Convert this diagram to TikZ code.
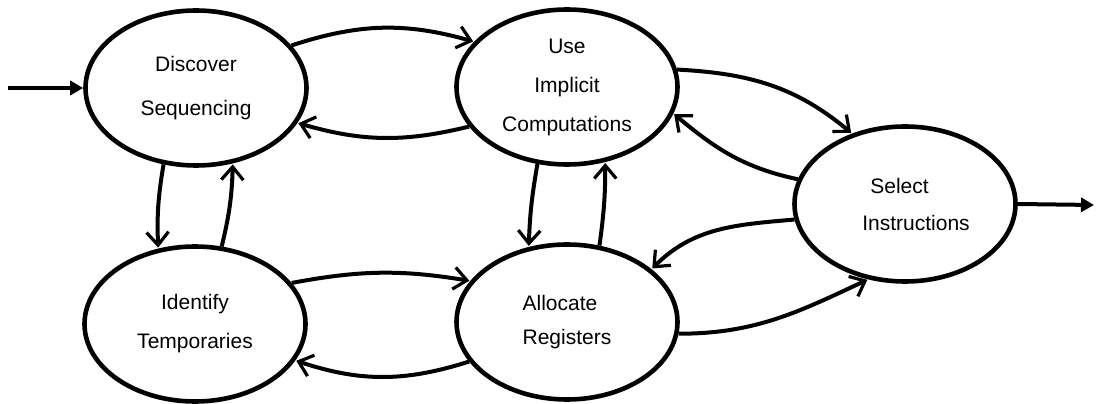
\documentclass[tikz,border=0pt]{standalone}
\usepackage{fontspec}
\setmainfont{Liberation Sans}
\usetikzlibrary{arrows.meta,shapes.geometric}
\begin{document}
\begin{tikzpicture}[x=1pt,y=1pt,
  state/.style={ellipse, draw, line width=4.6pt, minimum width=221pt,
    minimum height=155pt, inner sep=0pt, align=center,
    font=\fontsize{21}{39}\selectfont},
  conn/.style={line width=4pt,
    -{Straight Barb[length=13pt,width=22pt,line width=3.2pt]}, shorten >=1pt},
  io/.style={line width=4pt, -{Triangle[length=13pt,width=14pt]}}]
\useasboundingbox (0,0) rectangle (1097,404);

% processing phases
\node[state] (D) at (196,316) {Discover\\[5pt]Sequencing};
\node[state] (U) at (567,317) {Use\\Implicit\\Computations};
\node[state, align=left] (S) at (905,200)
  {\hspace*{30pt}Select\\[-2pt]\hspace*{22pt}Instructions};
\node[state] (I) at (195,80)  {Identify\\Temporaries};
\node[state, align=left] (A) at (567,82) {Allocate\\[-5pt]Registers};

% entry and exit
\coordinate (in)  at (8,316);
\coordinate (out) at (1094,199);
\draw[io] (in) -- (D.west);
\draw[io] (S.east) -- (out);

% top row
\draw[conn] (D.24)  to[bend left=17] (U.154);
\draw[conn] (U.202) to[bend left=15] (D.-19);

% bottom row
\draw[conn] (I.23)  to[bend left=10] (A.157);
\draw[conn] (A.202) to[bend left=18] (I.-20);

% verticals
\draw[conn] (D.247) to[bend right=6] (I.116);
\draw[conn] (I.71)  to[bend right=6] (D.-64);
\draw[conn] (U.-111) to[bend right=4] (A.117);
\draw[conn] (A.67)  to[bend right=4] (U.-63);

% links to instruction selection
\draw[conn] (U.9)   to[out=-3,in=140]  (S.127);
\draw[conn] (S.167) to[out=168,in=-40] (U.-14);
\draw[conn] (S.188) to[out=185,in=45]  (A.32);
\draw[conn] (A.-6)  to[out=0,in=205]   (S.-116);
\end{tikzpicture}
\end{document}
